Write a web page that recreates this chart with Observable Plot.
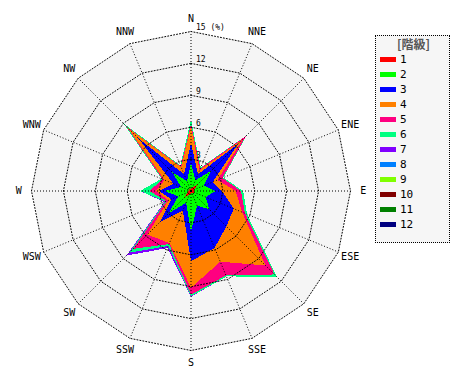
<!DOCTYPE html>
<html><head><meta charset="utf-8">
<script src="https://cdn.jsdelivr.net/npm/d3@7"></script>
<script src="https://cdn.jsdelivr.net/npm/@observablehq/plot@0.6"></script>
<style>
body{margin:0;background:#fff;}
#wrap{position:relative;width:470px;height:380px;}
#legend{position:absolute;left:375px;top:35px;width:75px;height:208px;border:1px dotted #000;background:#f6f6f6;box-sizing:border-box;}
#legend .title{position:absolute;left:0;width:75px;top:1px;text-align:center;font-family:"Noto Sans CJK JP",sans-serif;font-size:12px;font-weight:bold;color:#555;line-height:14px;}
#legend .item{position:absolute;left:4px;height:14px;line-height:14px;font-family:"DejaVu Sans Mono",monospace;font-size:11px;color:#000;}
#legend .sw{display:inline-block;width:16px;height:5px;vertical-align:middle;margin-right:4px;position:relative;top:-1px;}
.fills path{shape-rendering:crispEdges;}
</style>
</head><body>
<div id="wrap"></div>
<script>
const directions = ["N","NNE","NE","ENE","E","ESE","SE","SSE","S","SSW","SW","WSW","W","WNW","NW","NNW"];
const classLabels = ["1","2","3","4","5","6","7","8","9","10","11","12"];
const classColors = ["#ff0000","#00ff00","#0000ff","#ff8000","#ff0080","#00ff80","#8000ff","#0080ff","#80ff00","#800000","#008000","#000080"];
// frequency (%) per class, per direction (N, NNE, ... NNW)
const class1  = [0.3,0.3,1.0,0.3,0.3,0.3,0.3,0.2,0.3,0.3,1.0,0.3,0.3,0.2,0.3,0.2];
const class2  = [2.3,0.8,1.7,1.0,2.0,1.2,2.1,1.3,3.5,0.9,2.0,1.0,2.2,0.8,2.2,0.8];
const class3  = [1.9,0.6,3.6,0.9,0.6,2.85,2.3,4.3,2.8,0.8,1.1,0.7,0.5,0.8,4.5,0.7];
const class4  = [1.6,0.4,0.6,0.5,1.3,0.85,5.2,1.4,2.5,3.3,1.7,0.3,0.3,0.9,1.4,0.7];
const class5  = [0.2,0.2,0.4,0.5,0.5,0.3,1.2,1.4,0.65,0.1,1.9,0.2,0.6,0.2,0.2,0.1];
const class6  = [0.4,0.1,0.1,0.1,0.2,0.2,0.3,0.1,0.15,0.2,0.5,0.1,0.9,0.1,0.4,0.1];
const class7  = [0,0,0,0,0,0,0,0,0.05,0.2,0.4,0.1,0,0,0,0];
const class8  = [0,0,0,0,0,0,0,0,0,0,0,0,0,0,0,0];
const class9  = [0,0,0,0,0,0,0,0,0,0,0,0,0,0,0,0];
const class10 = [0,0,0,0,0,0,0,0,0,0,0,0,0,0,0,0];
const class11 = [0,0,0,0,0,0,0,0,0,0,0,0,0,0,0,0];
const class12 = [0,0,0,0,0,0,0,0,0,0,0,0,0,0,0,0];
const ringValues = [3,6,9,12,15];
const ringLabels = ["3","6","9","12","15 (%)"];
const legendTitle = "[階級]";

const series = [class1,class2,class3,class4,class5,class6,class7,class8,class9,class10,class11,class12];
const ang = i => i * 2 * Math.PI / directions.length;
// cumulative stacking
const cum = [];
series.forEach((s, k) => cum.push(s.map((v, i) => v + (k ? cum[k-1][i] : 0))));

const k = 159.5/15, cx = 190.5, cy = 190.5, W = 470, H = 380;
const polyData = c => directions.map((d, i) => ({d, x: c[i]*Math.sin(ang(i)), y: c[i]*Math.cos(ang(i))}));

const fillMarks = [];
for (let c = series.length - 1; c >= 0; c--) {
  fillMarks.push(Plot.line(polyData(cum[c]), {x:"x", y:"y", fill: classColors[c], stroke: "none", curve: "linear-closed", className: "fills"}));
}
const outer = ringValues[ringValues.length-1];
const ringRows = ringValues.flatMap(r => directions.map((d, i) => ({r, x: r*Math.sin(ang(i)), y: r*Math.cos(ang(i))})));
const spokes = directions.map((d, i) => ({d, x: outer*Math.sin(ang(i)), y: outer*Math.cos(ang(i))}));
const labelR = 16.2;
const dirLabels = directions.map((d, i) => ({d, x: labelR*Math.sin(ang(i)), y: labelR*Math.cos(ang(i))}));
const ringText = ringValues.map((r, i) => ({r, t: ringLabels[i]}));

const chart = Plot.plot({
  width: W, height: H, margin: 0,
  x: {domain: [-cx/k, (W-cx)/k], axis: null},
  y: {domain: [-(H-cy)/k, cy/k], axis: null},
  style: {background: "transparent"},
  marks: [
    Plot.line(polyData(directions.map(() => outer)), {x:"x", y:"y", fill:"#f5f5f5", stroke:"none", curve:"linear-closed"}),
    ...fillMarks,
    Plot.line(ringRows, {x:"x", y:"y", z:"r", stroke:"#000", strokeWidth:1, strokeDasharray:"1,2", curve:"linear-closed", fill:"none"}),
    Plot.link(spokes, {x1: () => 0, y1: () => 0, x2:"x", y2:"y", stroke:"#000", strokeWidth:1, strokeDasharray:"1,2"}),
    Plot.text(dirLabels, {x:"x", y:"y", text:"d", fontSize:10, fontFamily:"DejaVu Sans Mono", fill:"#000"}),
    Plot.text(ringText, {x: () => 0, y:"r", text:"t", textAnchor:"start", dx:5, dy:-4, fontSize:8, fontFamily:"DejaVu Sans Mono", fill:"#000"})
  ]
});
const wrap = document.getElementById("wrap");
wrap.appendChild(chart);

const leg = document.createElement("div");
leg.id = "legend";
const t = document.createElement("div");
t.className = "title"; t.textContent = legendTitle;
leg.appendChild(t);
classLabels.forEach((lab, i) => {
  const it = document.createElement("div");
  it.className = "item";
  it.style.top = (17 + 15*i) + "px";
  const sw = document.createElement("span");
  sw.className = "sw"; sw.style.background = classColors[i];
  it.appendChild(sw);
  it.appendChild(document.createTextNode(lab));
  leg.appendChild(it);
});
wrap.appendChild(leg);
</script>
</body></html>
